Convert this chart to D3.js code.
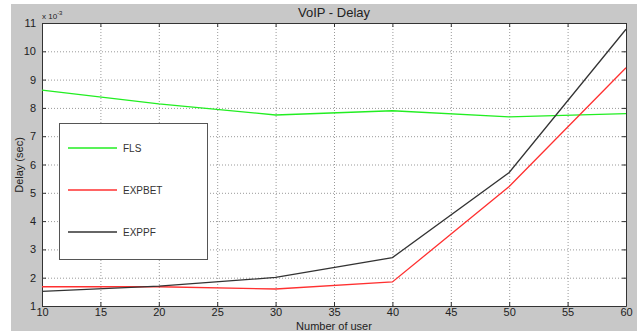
<!DOCTYPE html>
<html lang="en">
<head>
<meta charset="UTF-8"/>
<title>VoIP - Delay</title>
<script src="https://d3js.org/d3.v7.min.js"></script>
<style>
	body { margin: 0; background: #fff; }
	text { font-family: "Liberation Sans", Arial, sans-serif; }
</style>
</head>
<body>
<script>
var w = 637;
var h = 331;

// data (delay in units of 1e-3 s)
var users = [10, 20, 30, 40, 50, 60];
var fls = [8.63, 8.14, 7.75, 7.9, 7.68, 7.8];
var expbet = [1.68, 1.68, 1.6, 1.85, 5.22, 9.42];
var exppf = [1.52, 1.7, 2.01, 2.71, 5.72, 10.78];
var xTicks = [10, 15, 20, 25, 30, 35, 40, 45, 50, 55, 60];
var yTicks = [1, 2, 3, 4, 5, 6, 7, 8, 9, 10, 11];

var series = [
	{ name: "FLS", values: fls, color: "#22ee22" },
	{ name: "EXPBET", values: expbet, color: "#ff3030" },
	{ name: "EXPPF", values: exppf, color: "#333333" }
];

// plot box (window.top is reserved, so use other names)
var plotL = 42, plotR = 626, plotT = 23, plotB = 306;

var xScale = d3.scaleLinear().domain([10, 60]).range([plotL, plotR]);
var yScale = d3.scaleLinear().domain([1, 11]).range([plotB, plotT]);

var svg = d3.select("body")
	.append("svg")
	.attr("width", w)
	.attr("height", h);

// gray figure background
svg.append("rect")
	.attr("x", 11).attr("y", 4)
	.attr("width", w - 11).attr("height", h - 4)
	.attr("fill", "#c8c8c8");

svg.append("rect")
	.attr("x", plotL).attr("y", plotT)
	.attr("width", plotR - plotL).attr("height", plotB - plotT)
	.attr("fill", "#fff");

// grid
svg.append("g")
	.selectAll("line")
	.data(xTicks.slice(1, -1))
	.enter()
	.append("line")
	.attr("x1", function (d) { return xScale(d) + 0.5; })
	.attr("x2", function (d) { return xScale(d) + 0.5; })
	.attr("y1", plotT).attr("y2", plotB)
	.attr("stroke", "#999").attr("stroke-width", 1)
	.attr("stroke-dasharray", "1,2");

svg.append("g")
	.selectAll("line")
	.data(yTicks.slice(1, -1))
	.enter()
	.append("line")
	.attr("y1", function (d) { return yScale(d) + 0.5; })
	.attr("y2", function (d) { return yScale(d) + 0.5; })
	.attr("x1", plotL).attr("x2", plotR)
	.attr("stroke", "#999").attr("stroke-width", 1)
	.attr("stroke-dasharray", "1,2");

// axes, ticks pointing inward
var xAxis = d3.axisBottom(xScale).tickValues(xTicks).tickSizeInner(-4).tickSizeOuter(0).tickPadding(5);
var yAxis = d3.axisLeft(yScale).tickValues(yTicks).tickSizeInner(-4).tickSizeOuter(0).tickPadding(6);

var gx = svg.append("g")
	.attr("transform", "translate(0," + plotB + ")")
	.call(xAxis);
var gy = svg.append("g")
	.attr("transform", "translate(" + plotL + ",0)")
	.call(yAxis);

svg.append("g")
	.attr("transform", "translate(0," + plotT + ")")
	.call(d3.axisTop(xScale).tickValues(xTicks).tickSizeInner(-4).tickSizeOuter(0).tickFormat(""));
svg.append("g")
	.attr("transform", "translate(" + plotR + ",0)")
	.call(d3.axisRight(yScale).tickValues(yTicks).tickSizeInner(-4).tickSizeOuter(0).tickFormat(""));

svg.selectAll(".domain").attr("stroke", "#333");
svg.selectAll(".tick line").attr("stroke", "#333");
svg.selectAll(".tick text")
	.attr("font-size", "11px")
	.attr("fill", "#222")
	.attr("font-family", "'Liberation Sans', Arial, sans-serif");
gx.selectAll(".tick text").attr("dy", "0.45em");

// lines
var line = d3.line()
	.x(function (d, i) { return xScale(users[i]); })
	.y(function (d) { return yScale(d); });

svg.append("g")
	.selectAll("path")
	.data(series)
	.enter()
	.append("path")
	.attr("d", function (d) { return line(d.values); })
	.attr("fill", "none")
	.attr("stroke", function (d) { return d.color; })
	.attr("stroke-width", 1.3);

// legend
var legend = svg.append("g");
legend.append("rect")
	.attr("x", 59.5).attr("y", 123.5)
	.attr("width", 148).attr("height", 136)
	.attr("fill", "#fff")
	.attr("stroke", "#555");

var items = legend.selectAll("g.item")
	.data(series)
	.enter()
	.append("g")
	.attr("transform", function (d, i) { return "translate(0," + (148 + i * 42) + ")"; });
items.append("line")
	.attr("x1", 68).attr("x2", 117)
	.attr("y1", 0).attr("y2", 0)
	.attr("stroke", function (d) { return d.color; })
	.attr("stroke-width", 1.3);
items.append("text")
	.attr("x", 123).attr("y", 4)
	.attr("font-size", "10px")
	.attr("fill", "#333")
	.text(function (d) { return d.name; });

// titles
svg.append("text")
	.attr("x", 334).attr("y", 17)
	.attr("text-anchor", "middle")
	.attr("font-size", "13px")
	.attr("fill", "#222")
	.text("VoIP - Delay");

var exp = svg.append("text")
	.attr("x", 42).attr("y", 19)
	.attr("font-size", "8px")
	.attr("fill", "#222");
exp.append("tspan").text("x 10");
exp.append("tspan").attr("font-size", "6px").attr("dy", "-4").text("-3");

svg.append("text")
	.attr("transform", "translate(23,165) rotate(-90)")
	.attr("text-anchor", "middle")
	.attr("font-size", "11px")
	.attr("fill", "#222")
	.text("Delay (sec)");

svg.append("text")
	.attr("x", 334).attr("y", 330)
	.attr("text-anchor", "middle")
	.attr("font-size", "11px")
	.attr("fill", "#222")
	.text("Number of user");
</script>
</body>
</html>
